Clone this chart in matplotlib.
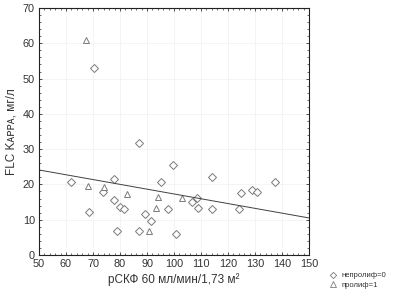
import numpy as np
import matplotlib
matplotlib.use('Agg')
import matplotlib.pyplot as plt
from matplotlib.lines import Line2D

plt.rcParams['font.family'] = ['Liberation Sans', 'DejaVu Sans']

# непролиф=0
x_nonprolif = [61.7, 70.3, 77.9, 73.6, 87.0, 99.7, 95.1, 77.9, 80.0, 81.5, 97.7,
               68.6, 89.4, 91.6, 78.9, 87.0, 100.6, 114.1, 137.5, 124.8, 128.9,
               130.6, 108.4, 106.5, 109.0, 114.0, 124.1]
y_nonprolif = [20.8, 52.9, 21.5, 17.8, 31.8, 25.5, 20.6, 15.5, 13.5, 13.0, 13.1,
               12.2, 11.7, 9.5, 6.9, 6.7, 6.0, 22.2, 20.8, 17.5, 18.3,
               17.9, 16.1, 14.9, 13.2, 13.0, 13.1]
# пролиф=1
x_prolif = [67.3, 68.0, 74.2, 82.5, 94.2, 93.3, 90.7, 102.8]
y_prolif = [60.9, 19.6, 19.2, 17.4, 16.5, 13.3, 6.7, 16.1]

# regression line
fit_intercept_at_50 = 24.1
fit_slope = -0.136

fig = plt.figure(figsize=(3.93, 2.96), dpi=100)
ax = fig.add_axes([39 / 393, 41 / 296, 270 / 393, 247 / 296])

grey = '#7a7a7a'
ax.plot(x_nonprolif, y_nonprolif, linestyle='none', marker='D', markersize=3.8,
        markerfacecolor='white', markeredgecolor=grey, markeredgewidth=0.7)
ax.plot(x_prolif, y_prolif, linestyle='none', marker='^', markersize=4.6,
        markerfacecolor='white', markeredgecolor=grey, markeredgewidth=0.7)

xs = np.array([50, 150])
ax.plot(xs, fit_intercept_at_50 + fit_slope * (xs - 50), color='#404040', lw=0.7)

ax.set_xlim(50, 150)
ax.set_ylim(0, 70)
ax.set_xticks(np.arange(50, 151, 10))
ax.set_yticks(np.arange(0, 71, 10))
ax.set_xticks(np.arange(50, 151, 2), minor=True)
ax.set_yticks(np.arange(0, 71, 2), minor=True)
ax.tick_params(which='both', direction='in', top=True, right=True,
               labelsize=7.8, labelcolor='#333333', color='#333333', pad=3)
ax.tick_params(which='major', length=2.5, width=0.6)
ax.tick_params(which='minor', length=1.3, width=0.5)
ax.grid(True, which='major', color='#f2f2f2', lw=0.6)
for s in ax.spines.values():
    s.set_linewidth(0.8)
    s.set_color('#222222')

ax.set_xlabel('рСКФ 60 мл/мин/1,73 м²', fontsize=8.5, color='#333333', labelpad=3)
ax.set_ylabel('FLC Kᴀᴘᴘᴀ, мг/л', fontsize=8.5, color='#333333', labelpad=4)

h1 = Line2D([], [], linestyle='none', marker='D', markersize=3.2,
            markerfacecolor='white', markeredgecolor=grey, markeredgewidth=0.6)
h2 = Line2D([], [], linestyle='none', marker='^', markersize=4,
            markerfacecolor='white', markeredgecolor=grey, markeredgewidth=0.6)
fig.legend([h1, h2], ['непролиф=0', 'пролиф=1'], loc='lower right',
           bbox_to_anchor=(1.0, 0.0), frameon=False, fontsize=5.5,
           handlelength=1.5, handletextpad=0.3, labelspacing=0.3,
           labelcolor='#333333')

fig.savefig('out.png', dpi=100)
